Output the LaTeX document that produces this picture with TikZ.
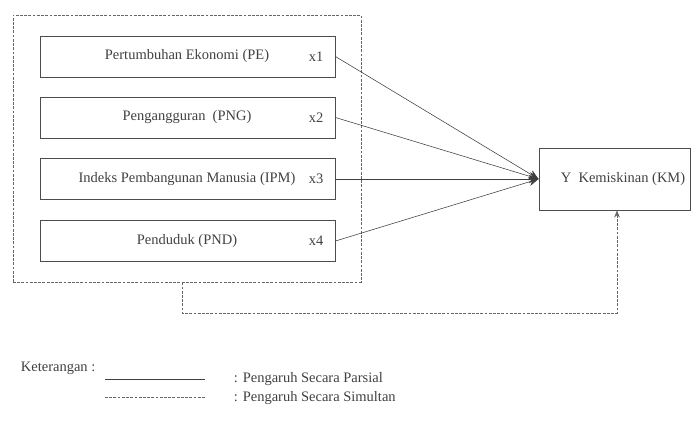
\documentclass[tikz,border=0pt]{standalone}
\usepackage{fontspec}
\setmainfont{Liberation Serif}
\usetikzlibrary{arrows.meta}

\begin{document}
\begin{tikzpicture}
[x=0.025cm,y=-0.025cm,
  boxDecorate/.style={shape=rectangle,draw=black!70,semithick,minimum width=7.375cm,minimum height=1.025cm,inner sep=0pt},%
  textDecorate/.style={text=black!75,font=\fontsize{10.3}{12}\selectfont},%
  lineDecorate/.style={-{Stealth[length=7pt,width=6pt]},draw=black!75},%
  dashDecorate/.style={draw=black!60,dash pattern=on 2pt off 1pt}]
\useasboundingbox (0,0) rectangle (697,427);
%% outer dashed frame
\node (frame) at (187,148.5) [dashDecorate,shape=rectangle,minimum width=8.7cm,minimum height=6.675cm,inner sep=0pt] {};
%% independent variables
\foreach \nodename/\y/\label/\xname in {pe/56.5/{Pertumbuhan Ekonomi (PE)}/x1, png/117.5/{Pengangguran\ \ (PNG)}/x2, ipm/179/{Indeks Pembangunan Manusia (IPM)}/x3, pnd/241/{Penduduk (PND)}/x4}
{
  \node (\nodename) at (187.5,\y) [boxDecorate] {};
  \node (\nodename-label) at (187,\y) [textDecorate] {\label};
  \node (\nodename-x) at (316,\y) [textDecorate] {\xname};
}
%% dependent variable
\node (km) at (614.5,179) [boxDecorate,minimum width=3.775cm,minimum height=1.55cm] {};
\node (km-label) at (623,179) [textDecorate] {Y\ \ Kemiskinan (KM)};
%% partial effects
\path
\foreach \startnode in {pe, png, ipm, pnd}
{
  (\startnode.east) edge[lineDecorate] (km.west)
};
%% simultaneous effect
\coordinate (turnA) at (182,313);
\coordinate (turnB) at (617,313);
\draw[dashDecorate,-{Stealth[length=5pt,width=4pt]}] (frame.south -| turnA) -- (turnA) -- (turnB) -- (turnB |- km.south);
%% legend
\node (ket) at (16,368) [textDecorate,anchor=west] {Keterangan :};
\coordinate (solidA) at (105,379);
\coordinate (solidB) at (205,379);
\coordinate (dashA) at (105,397);
\coordinate (dashB) at (205,397);
\draw[draw=black!75] (solidA) -- (solidB);
\draw[dashDecorate] (dashA) -- (dashB);
\node (parsial) at (229,379) [textDecorate,anchor=west] {: Pengaruh Secara Parsial};
\node (simultan) at (229,398) [textDecorate,anchor=west] {: Pengaruh Secara Simultan};
\end{tikzpicture}
\end{document}
